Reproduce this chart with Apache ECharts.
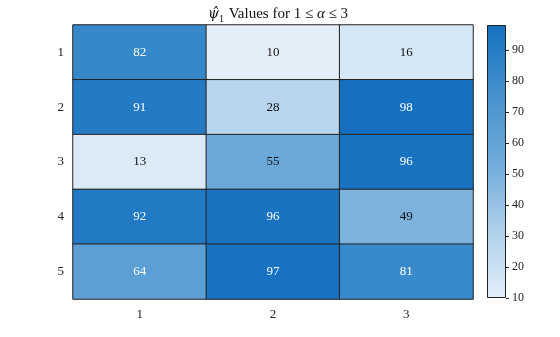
<!DOCTYPE html>
<html>
<head>
<meta charset="utf-8">
<script src="https://cdn.jsdelivr.net/npm/echarts@6/dist/echarts.min.js"></script>
<style>
  html, body { margin: 0; padding: 0; background: #fff; }
  #chart { width: 560px; height: 337px; }
</style>
</head>
<body>
<div id="chart"></div>
<script>
// Heatmap of psi-hat_1 values: rows 1..5, columns alpha = 1..3
const rowLabels = ['1', '2', '3', '4', '5'];
const colLabels = ['1', '2', '3'];
const row1 = [82, 10, 16];
const row2 = [91, 28, 98];
const row3 = [13, 55, 96];
const row4 = [92, 96, 49];
const row5 = [64, 97, 81];
const colorbarTicks = [10, 20, 30, 40, 50, 60, 70, 80, 90];

const rows = [row1, row2, row3, row4, row5];
const vmin = 10, vmax = 98;
const palette = ['#e3eef9', '#aed0ea', '#6faad9', '#4491cd', '#1570c0'];
const FONT = '"Liberation Serif", "DejaVu Serif", serif';

const cells = [];
rows.forEach((r, ri) => r.forEach((v, ci) => cells.push([ci, ri, v])));

const chart = echarts.init(document.getElementById('chart'), null, { renderer: 'canvas' });

chart.setOption({
  animation: false,
  backgroundColor: '#fff',
  textStyle: { fontFamily: FONT },
  title: {
    text: '{i|ψ̂}{s|1} Values for 1 ≤ {a|α} ≤ 3',
    left: 273, top: -1, textAlign: 'center',
    textStyle: {
      fontFamily: FONT, fontSize: 15, fontWeight: 'normal', color: '#111', lineHeight: 20,
      rich: {
        i: { fontFamily: '"DejaVu Serif", serif', fontSize: 14, fontStyle: 'italic', color: '#111', lineHeight: 20 },
        a: { fontFamily: FONT, fontSize: 15, fontStyle: 'italic', color: '#111', lineHeight: 20 },
        s: { fontFamily: FONT, fontSize: 10, color: '#111', lineHeight: 20, verticalAlign: 'bottom', padding: [0, 1, 0, 0] }
      }
    }
  },
  grid: [
    { left: 73, top: 25, width: 400, height: 274, containLabel: false },
    { left: 487, top: 25, width: 19, height: 273, containLabel: false }
  ],
  xAxis: [
    {
      type: 'category', data: colLabels, gridIndex: 0, position: 'bottom',
      axisLine: { show: false }, axisTick: { show: false }, splitLine: { show: false },
      axisLabel: { fontFamily: FONT, fontSize: 13, color: '#222', margin: 9 }
    },
    {
      type: 'category', data: ['c'], gridIndex: 1, show: false
    }
  ],
  yAxis: [
    {
      type: 'category', data: rowLabels, gridIndex: 0, inverse: true,
      axisLine: { show: false }, axisTick: { show: false }, splitLine: { show: false },
      axisLabel: { fontFamily: FONT, fontSize: 13, color: '#222', margin: 9 }
    },
    {
      type: 'value', gridIndex: 1, min: vmin, max: vmax, position: 'right',
      splitLine: { show: false },
      axisLine: { show: false },
      axisTick: { show: true, length: 3, inside: false, customValues: colorbarTicks,
                  lineStyle: { color: '#222', width: 1 } },
      axisLabel: { fontFamily: FONT, fontSize: 12, color: '#222', margin: 6,
                   customValues: colorbarTicks }
    }
  ],
  visualMap: {
    show: false, type: 'continuous', min: vmin, max: vmax, dimension: 2,
    seriesIndex: 0, inRange: { color: palette }
  },
  series: [
    {
      type: 'heatmap', xAxisIndex: 0, yAxisIndex: 0,
      data: cells.map(c => ({
        value: c,
        // light text on dark cells, dark text on light cells
        label: { color: c[2] > 60 ? '#fff' : '#111' }
      })),
      itemStyle: { borderColor: '#222', borderWidth: 1 },
      label: {
        show: true, fontFamily: FONT, fontSize: 13,
        formatter: p => String(p.value[2])
      }
    },
    {
      type: 'bar', xAxisIndex: 1, yAxisIndex: 1, stack: 'cb', barWidth: '100%',
      data: [vmin], itemStyle: { color: 'transparent' }, silent: true
    },
    {
      type: 'bar', xAxisIndex: 1, yAxisIndex: 1, stack: 'cb', barWidth: '100%',
      data: [vmax - vmin], silent: true,
      itemStyle: {
        borderColor: '#222', borderWidth: 1,
        color: new echarts.graphic.LinearGradient(0, 1, 0, 0,
          palette.map((c, i) => ({ offset: i / (palette.length - 1), color: c })))
      }
    }
  ]
});
</script>
</body>
</html>
